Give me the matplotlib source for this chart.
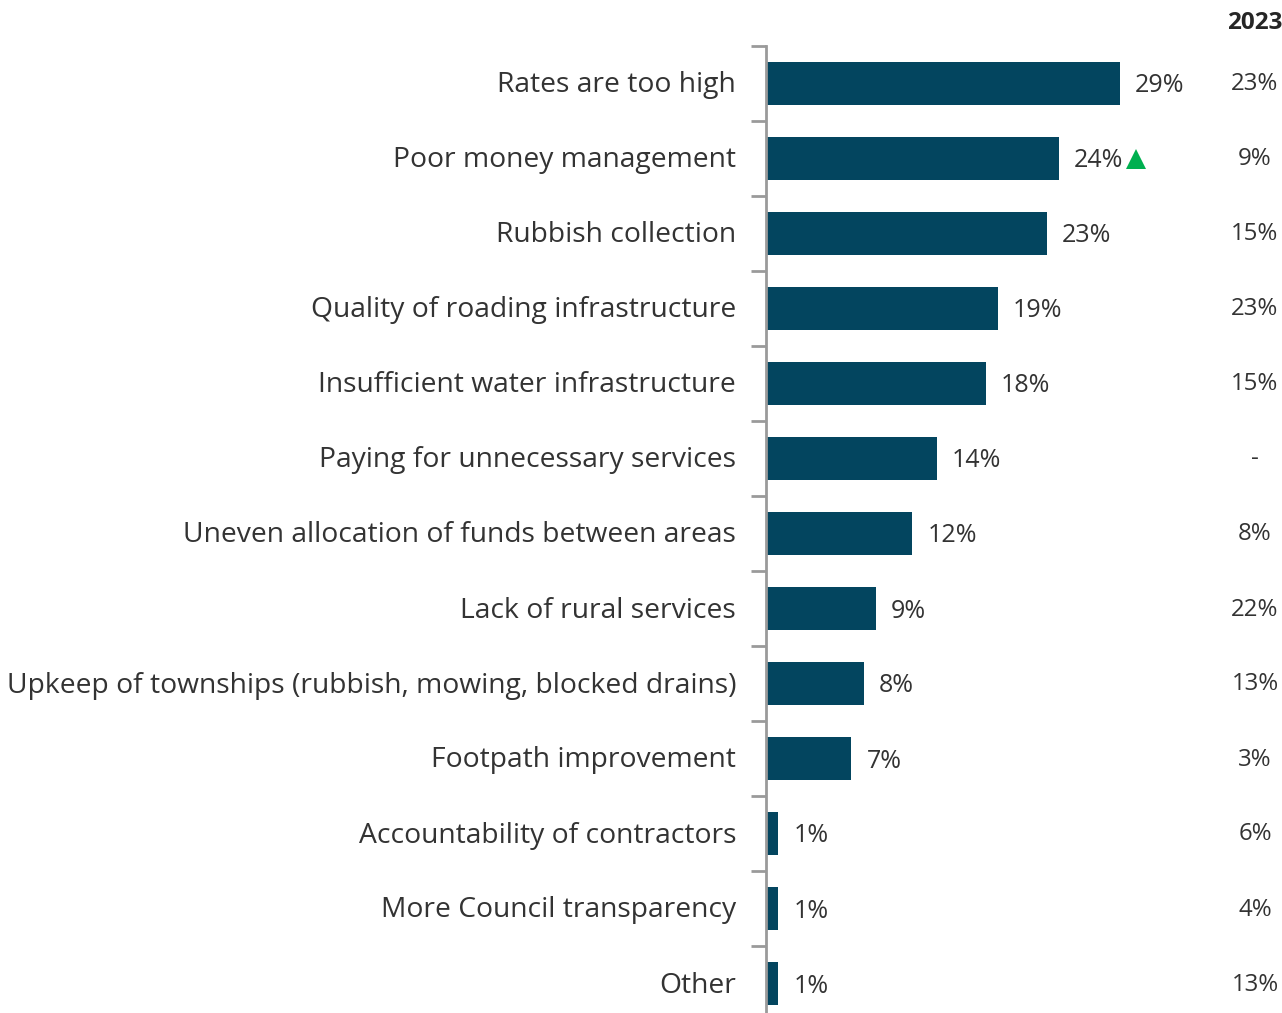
import matplotlib
matplotlib.use("Agg")
import matplotlib.pyplot as plt
import matplotlib.transforms as mtransforms

plt.rcParams['font.family'] = ['Open Sans', 'DejaVu Sans']

categories = [
    "Rates are too high",
    "Poor money management",
    "Rubbish collection",
    "Quality of roading infrastructure",
    "Insufficient water infrastructure",
    "Paying for unnecessary services",
    "Uneven allocation of funds between areas",
    "Lack of rural services",
    "Upkeep of townships (rubbish, mowing, blocked drains)",
    "Footpath improvement",
    "Accountability of contractors",
    "More Council transparency",
    "Other",
]
values_2024 = [29, 24, 23, 19, 18, 14, 12, 9, 8, 7, 1, 1, 1]
labels_2023 = ["23%", "9%", "15%", "23%", "15%", "-", "8%", "22%", "13%", "3%", "6%", "4%", "13%"]
significant_up = [False, True, False, False, False, False, False, False, False, False, False, False, False]
column_header = "2023"

BAR = "#03455F"
TEXT = "#333333"
AXIS = "#9A9A9A"
GREEN = "#00B050"

W, H = 1282, 1013
PX = 0.72  # points per pixel at 100 dpi
fig = plt.figure(figsize=(W / 100, H / 100), dpi=100)

# axes placed in pixel terms: zero line at x=766, rows 75 px apart starting at y=46
x0, x_right = 766, 1278.4
y_top, y_bot = 46, 1021
ax = fig.add_axes([x0 / W, 1 - y_bot / H, (x_right - x0) / W, (y_bot - y_top) / H])

n = len(categories)
pos = list(range(n))
ax.barh(pos, values_2024, height=0.57, color=BAR, zorder=2)
ax.set_xlim(0, 42)
ax.set_ylim(n - 0.5, -0.5)

for s in ["top", "right", "bottom"]:
    ax.spines[s].set_visible(False)
ax.spines["left"].set_color(AXIS)
ax.spines["left"].set_linewidth(2)
ax.set_xticks([])

# boundary tick marks between rows
ax.set_yticks([p - 0.5 for p in pos] + [n - 0.5])
ax.set_yticklabels([])
ax.tick_params(axis="y", length=11, width=2, color=AXIS)

# category names, right-aligned left of the axis
for p, name in zip(pos, categories):
    ax.annotate(name, xy=(0, p), xycoords=("axes fraction", "data"),
                xytext=(-30 * PX, -9 * PX), textcoords="offset points",
                ha="right", va="baseline", fontsize=20.3, color=TEXT,
                annotation_clip=False)

# value labels at the bar ends
for p, v, up in zip(pos, values_2024, significant_up):
    ax.annotate(f"{v}%", xy=(v, p), xytext=(15 * PX, -9 * PX), textcoords="offset points",
                ha="left", va="baseline", fontsize=18, color=TEXT)
    if up:
        tri = mtransforms.offset_copy(ax.transData, fig=fig, x=77.5 * PX, y=-0.5 * PX, units="points")
        ax.plot([v], [p], marker="^", markersize=14, color=GREEN,
                markeredgewidth=0, transform=tri, clip_on=False)

# previous-year column
col = mtransforms.blended_transform_factory(fig.transFigure, ax.transData)
col_x = 1255 / W
for p, lab in zip(pos, labels_2023):
    ax.annotate(lab, xy=(col_x, p), xycoords=col,
                xytext=(0, -7 * PX), textcoords="offset points",
                ha="center", va="baseline", fontsize=17.3, color=TEXT,
                annotation_clip=False)
ax.annotate(column_header, xy=(col_x, -0.5), xycoords=col,
            xytext=(0, 17 * PX), textcoords="offset points",
            ha="center", va="baseline", fontsize=17.5, fontweight="bold",
            color="#262626", annotation_clip=False)

fig.savefig("out.png", dpi=100, facecolor="white")
